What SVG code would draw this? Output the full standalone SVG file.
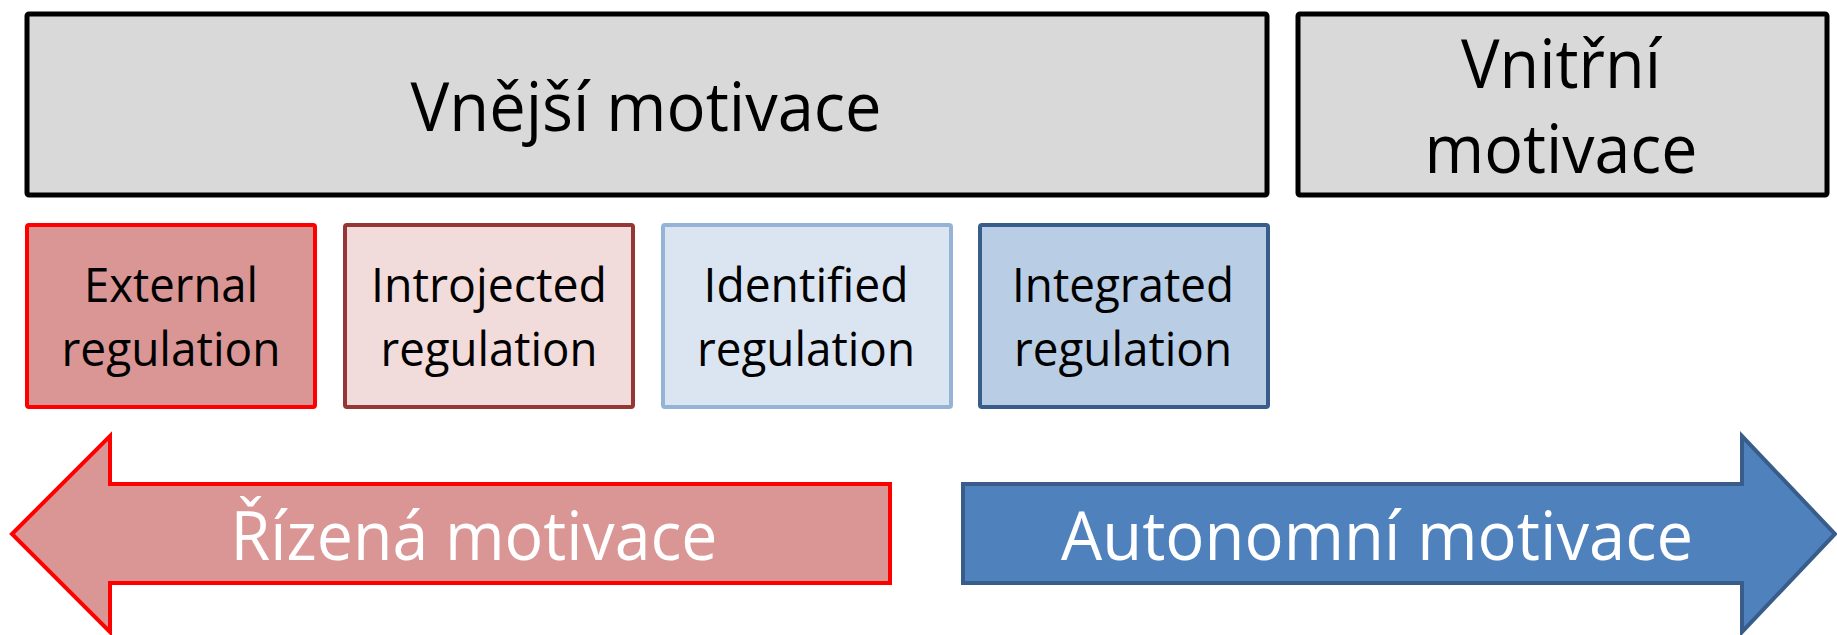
<svg xmlns="http://www.w3.org/2000/svg" width="1837" height="635" viewBox="0 0 1837 635">
<style>
text{font-family:"Open Sans","Noto Sans","Liberation Sans",sans-serif;text-anchor:middle}
.big{font-size:68px}
.small{font-size:48px;fill:#000}
.hdr{fill:#d9d9d9;stroke:#000;stroke-width:5}
.wt{fill:#fff}
</style>
<rect width="1837" height="635" fill="#fff"/>
<g id="vnejsi">
<rect class="hdr" x="27" y="14" width="1240" height="181" rx="2"/>
<text class="big" x="646" y="131" textLength="471" lengthAdjust="spacingAndGlyphs">Vnější motivace</text>
</g>
<g id="vnitrni">
<rect class="hdr" x="1298" y="14" width="529" height="181" rx="2"/>
<text class="big" x="1561" y="88" textLength="200" lengthAdjust="spacingAndGlyphs">Vnitřní</text>
<text class="big" x="1561" y="173" textLength="273" lengthAdjust="spacingAndGlyphs">motivace</text>
</g>
<g id="external">
<rect x="27" y="225" width="288" height="182" rx="2" fill="#d99694" stroke="#ff0000" stroke-width="4"/>
<text class="small" x="171" y="302" textLength="174" lengthAdjust="spacingAndGlyphs">External</text>
<text class="small" x="171" y="366" textLength="219" lengthAdjust="spacingAndGlyphs">regulation</text>
</g>
<g id="introjected">
<rect x="345" y="225" width="288" height="182" rx="2" fill="#f2dcdb" stroke="#953735" stroke-width="4"/>
<text class="small" x="489" y="302" textLength="236" lengthAdjust="spacingAndGlyphs">Introjected</text>
<text class="small" x="489" y="366" textLength="217" lengthAdjust="spacingAndGlyphs">regulation</text>
</g>
<g id="identified">
<rect x="663" y="225" width="288" height="182" rx="2" fill="#dbe5f1" stroke="#95b3d7" stroke-width="4"/>
<text class="small" x="806" y="302" textLength="205" lengthAdjust="spacingAndGlyphs">Identified</text>
<text class="small" x="806" y="366" textLength="218" lengthAdjust="spacingAndGlyphs">regulation</text>
</g>
<g id="integrated">
<rect x="980" y="225" width="288" height="182" rx="2" fill="#b9cde5" stroke="#385d8a" stroke-width="4"/>
<text class="small" x="1123" y="302" textLength="222" lengthAdjust="spacingAndGlyphs">Integrated</text>
<text class="small" x="1123" y="366" textLength="218" lengthAdjust="spacingAndGlyphs">regulation</text>
</g>
<g id="rizena">
<path d="M12,534 L110,436 L110,484 L890,484 L890,583 L110,583 L110,632 Z" fill="#d99694" stroke="#ff0000" stroke-width="4" stroke-linejoin="miter"/>
<text class="big wt" x="474" y="560" textLength="487" lengthAdjust="spacingAndGlyphs">Řízená motivace</text>
</g>
<g id="autonomni">
<path d="M963,484 L1742,484 L1742,436 L1835,534 L1742,632 L1742,583 L963,583 Z" fill="#4f81bd" stroke="#385d8a" stroke-width="4" stroke-linejoin="miter"/>
<text class="big wt" x="1377" y="560" textLength="632" lengthAdjust="spacingAndGlyphs">Autonomní motivace</text>
</g>
<g id="connectors"></g>
</svg>
